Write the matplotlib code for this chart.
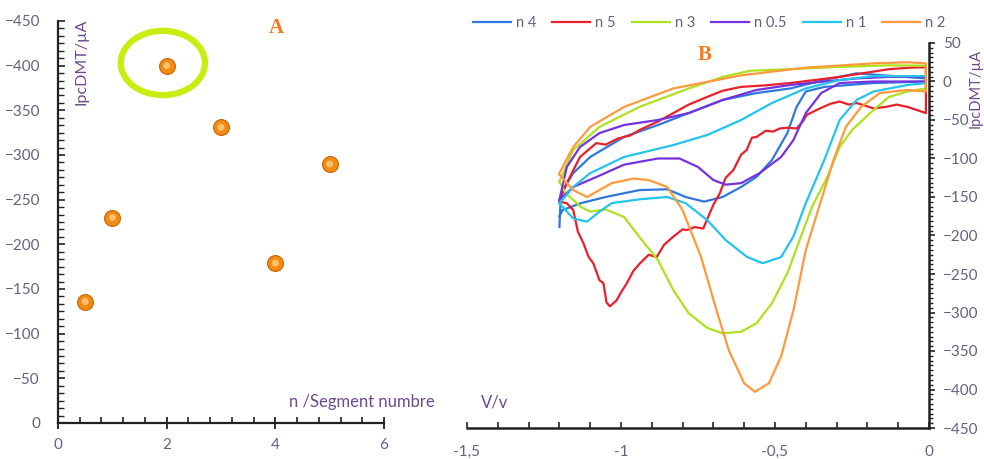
import matplotlib
matplotlib.use("Agg")
import matplotlib.pyplot as plt
from matplotlib.patches import Ellipse
from matplotlib.ticker import MultipleLocator, FixedLocator

plt.rcParams['font.family'] = ['Lato', 'DejaVu Sans']

# ---------------- Panel A data ----------------
segment_n = [0.5, 1, 2, 3, 4, 5]
ipc_peak = [-136, -230, -400, -331, -179, -290]

# ---------------- Panel B data (V, I) ----------------
n4_v = [-1.20, -1.195, -1.155, -1.10, -0.99, -0.88, -0.78, -0.67, -0.56, -0.45, -0.34, -0.235, -0.15, -0.01,
        -0.01, -0.18, -0.34, -0.40, -0.43, -0.46, -0.51, -0.56, -0.61, -0.67, -0.73, -0.79, -0.85, -0.94, -1.05, -1.13, -1.19, -1.20]
n4_i = [-189, -145, -119, -98, -72, -56.5, -41, -24, -15, -9, 2, 10.6, 8, 4,
        0, -2, -7, -13, -33, -67, -102, -124, -137, -150, -156, -150, -140, -141, -150, -158, -167, -175]

n5_v = [-1.20, -1.176, -1.133, -1.08, -1.05, -1.01, -0.97, -0.94, -0.88, -0.83, -0.78, -0.72, -0.67, -0.61, -0.53, -0.45,
        -0.37, -0.29, -0.21, -0.13, -0.06, -0.01,
        -0.01, -0.04, -0.07, -0.105, -0.14, -0.18, -0.21, -0.235, -0.26, -0.29, -0.32, -0.343, -0.37, -0.397, -0.41, -0.43,
        -0.46, -0.484, -0.506, -0.53, -0.56, -0.575, -0.592, -0.61, -0.635, -0.66, -0.679, -0.70, -0.733, -0.76, -0.787,
        -0.80, -0.83, -0.86, -0.884, -0.91, -0.938, -0.96, -0.981, -1.00, -1.014, -1.036, -1.047, -1.057, -1.07, -1.09,
        -1.105, -1.122, -1.14, -1.155, -1.176, -1.20]
n5_i = [-156, -132, -98, -80, -82, -74, -70, -63, -52, -41, -30, -20, -12, -7, -5, -2,
        2, 6, 11, 16, 18, 18.5,
        -41, -37, -33, -30, -33, -35, -31, -28, -30, -26, -29, -33, -38, -43.5, -52, -61,
        -60, -61, -65, -64, -72, -73, -89, -95, -115, -125, -145, -160, -191, -189, -193,
        -192, -201.5, -212, -228, -225, -236, -246, -262, -274, -284, -292, -287, -262, -258, -236,
        -228, -210, -195, -167, -158, -156]

n3_v = [-1.20, -1.155, -1.07, -0.94, -0.78, -0.67, -0.58, -0.45, -0.29, -0.13, -0.01,
        -0.01, -0.07, -0.13, -0.18, -0.25, -0.29, -0.33, -0.38, -0.42, -0.46, -0.51, -0.56, -0.61, -0.67, -0.72,
        -0.78, -0.83, -0.88, -0.94, -0.99, -1.05, -1.10, -1.13, -1.18, -1.20]
n3_i = [-130, -89, -59, -33, -9, 6, 14, 16, 19, 21, 20.5,
        -9, -13, -20, -37, -63, -85, -124, -163, -206, -249, -288, -314, -325, -327, -320,
        -301, -271, -232, -202, -176, -166, -169, -163, -145, -130]

n05_v = [-1.20, -1.176, -1.133, -1.07, -0.99, -0.88, -0.78, -0.67, -0.56, -0.45, -0.34, -0.235, -0.13, -0.01,
         -0.01, -0.18, -0.29, -0.35, -0.40, -0.44, -0.48, -0.55, -0.61, -0.66, -0.70, -0.75, -0.81, -0.88, -0.99,
         -1.08, -1.155, -1.20]
n05_i = [-154, -111, -85, -67, -56.5, -50, -41, -24, -11, -4.5, 0, 4, 6, 6,
         0, 0, -2, -15, -41, -76, -98, -119, -132, -134, -128, -111, -100, -100, -108,
         -124, -137, -154]

n1_v = [-1.20, -1.155, -1.10, -0.99, -0.83, -0.72, -0.61, -0.51, -0.40, -0.29, -0.18, -0.01,
        -0.01, -0.07, -0.18, -0.235, -0.29, -0.34, -0.40, -0.44, -0.48, -0.54, -0.59, -0.66, -0.72, -0.79,
        -0.85, -0.94, -1.03, -1.07, -1.11, -1.155, -1.20]
n1_i = [-158, -137, -119, -98, -82.5, -69.5, -50, -28, -9, 2, 7, 7,
        -2, -4.5, -13, -24, -50, -102, -158, -201, -228, -236, -228, -206, -180, -158,
        -150, -153, -158, -169, -182, -178, -158]

n2_v = [-1.20, -1.155, -1.10, -0.99, -0.83, -0.61, -0.40, -0.18, -0.07, -0.01,
        -0.01, -0.07, -0.16, -0.22, -0.27, -0.31, -0.35, -0.40, -0.44, -0.48, -0.52, -0.565, -0.60, -0.65,
        -0.69, -0.74, -0.80, -0.85, -0.91, -0.96, -1.03, -1.11, -1.155, -1.20]
n2_i = [-119, -85, -59, -33, -9, 8, 18, 23.6, 25, 23.6,
        -13, -11, -15, -33, -59, -102, -154, -219, -297, -357, -392, -403, -392, -349,
        -297, -228, -167, -137, -128, -126, -132, -150, -141, -121]

series_labels = ['n 4', 'n 5', 'n 3', 'n 0.5', 'n 1', 'n 2']
series_colors = ['#2f78dc', '#e8202a', '#aee21e', '#7432e0', '#22c4ec', '#ff9a3c']
series_v = [n4_v, n5_v, n3_v, n05_v, n1_v, n2_v]
series_i = [n4_i, n5_i, n3_i, n05_i, n1_i, n2_i]

x_ticks_b = [-1.5, -1.0, -0.5, 0.0]
x_ticklabels_b = ['-1,5', '-1', '-0,5', '0']

tick_col = '#62627e'
title_col = '#6e4a8e'
W, H = 984, 459

fig = plt.figure(figsize=(9.84, 4.59), dpi=100)

# ---------------- Panel A ----------------
axA = fig.add_axes([58 / W, 1 - 423 / H, (384 - 58) / W, (423 - 21) / H])
axA.scatter(segment_n, ipc_peak, s=130, c='#f38a14', edgecolors='#c86400', linewidths=0.8, zorder=3)
axA.scatter(segment_n, ipc_peak, s=25, c='#ffc070', edgecolors='none', zorder=4)
axA.set_xlim(0, 6)
axA.set_ylim(0, -450)
axA.spines['top'].set_visible(False)
axA.spines['right'].set_visible(False)
for s in ('left', 'bottom'):
    axA.spines[s].set_linewidth(1.6)
    axA.spines[s].set_color('#222222')
axA.xaxis.set_major_locator(MultipleLocator(2))
axA.xaxis.set_minor_locator(MultipleLocator(0.4))
axA.yaxis.set_major_locator(MultipleLocator(50))
axA.yaxis.set_minor_locator(MultipleLocator(50 / 6))
axA.tick_params(axis='x', which='major', direction='inout', length=9, width=1.3, color='#222222',
                labelsize=11, labelcolor=tick_col, pad=6)
axA.tick_params(axis='x', which='minor', direction='in', length=4, width=1.2, color='#222222')
axA.tick_params(axis='y', which='major', direction='in', length=5, width=1.2, color='#222222',
                labelsize=11, labelcolor=tick_col, pad=13)
axA.tick_params(axis='y', which='minor', direction='in', length=4, width=1.0, color='#222222')
axA.add_patch(Ellipse((1.93, -403), 1.55, 72, fill=False, edgecolor='#c6ee10', linewidth=4.5, zorder=2))
fig.text(82 / W, 1 - 62 / H, 'IpcDMT/µA', rotation=90, ha='center', va='center', fontsize=11.5, color=title_col)
fig.text(289 / W, 1 - 402 / H, 'n /Segment numbre', ha='left', va='center', fontsize=12, color=title_col)
fig.text(276 / W, 1 - 28 / H, 'A', ha='center', va='center', fontsize=15, fontweight='bold',
         family='Liberation Serif', color='#f57a1e')

# ---------------- Panel B ----------------
axB = fig.add_axes([467 / W, 1 - 428 / H, 462 / W, (428 - 43) / H])
for v, i, lab, col in zip(series_v, series_i, series_labels, series_colors):
    axB.plot(v, i, color=col, linewidth=1.6, label=lab, zorder=2)
axB.set_xlim(-1.5, 0)
axB.set_ylim(-450, 50)
axB.spines['top'].set_visible(False)
axB.spines['left'].set_visible(False)
for s in ('right', 'bottom'):
    axB.spines[s].set_linewidth(1.8)
    axB.spines[s].set_color('#222222')
    axB.spines[s].set_zorder(5)
axB.yaxis.tick_right()
axB.xaxis.set_major_locator(FixedLocator(x_ticks_b))
axB.set_xticklabels(x_ticklabels_b)
axB.xaxis.set_minor_locator(MultipleLocator(0.1))
axB.yaxis.set_major_locator(MultipleLocator(50))
axB.yaxis.set_minor_locator(MultipleLocator(6.25))
axB.tick_params(axis='x', which='both', direction='in', length=4, width=1.2, color='#222222',
                labelsize=11, labelcolor=tick_col, pad=12)
axB.tick_params(axis='y', which='major', direction='out', length=4, width=1.2, color='#222222',
                labelsize=11, labelcolor=tick_col, pad=6)
axB.tick_params(axis='y', which='minor', direction='out', length=3, width=1.0, color='#222222')
fig.text(976 / W, 1 - 88 / H, 'IpcDMT/µA', rotation=90, ha='center', va='center', fontsize=10.5, color=title_col)
fig.text(481 / W, 1 - 403 / H, 'V/v', ha='left', va='center', fontsize=12, color=title_col)
fig.text(705 / W, 1 - 55 / H, 'B', ha='center', va='center', fontsize=15, fontweight='bold',
         family='Liberation Serif', color='#f57a1e')

leg = axB.legend(loc='center left', bbox_to_anchor=(473 / W, 1 - 23 / H), bbox_transform=fig.transFigure,
                 ncol=6, frameon=False, fontsize=10.5, handlelength=2.6, handletextpad=0.35,
                 columnspacing=1.1, borderpad=0, borderaxespad=0)
for t in leg.get_texts():
    t.set_color(tick_col)

fig.savefig('out.png', dpi=100)
